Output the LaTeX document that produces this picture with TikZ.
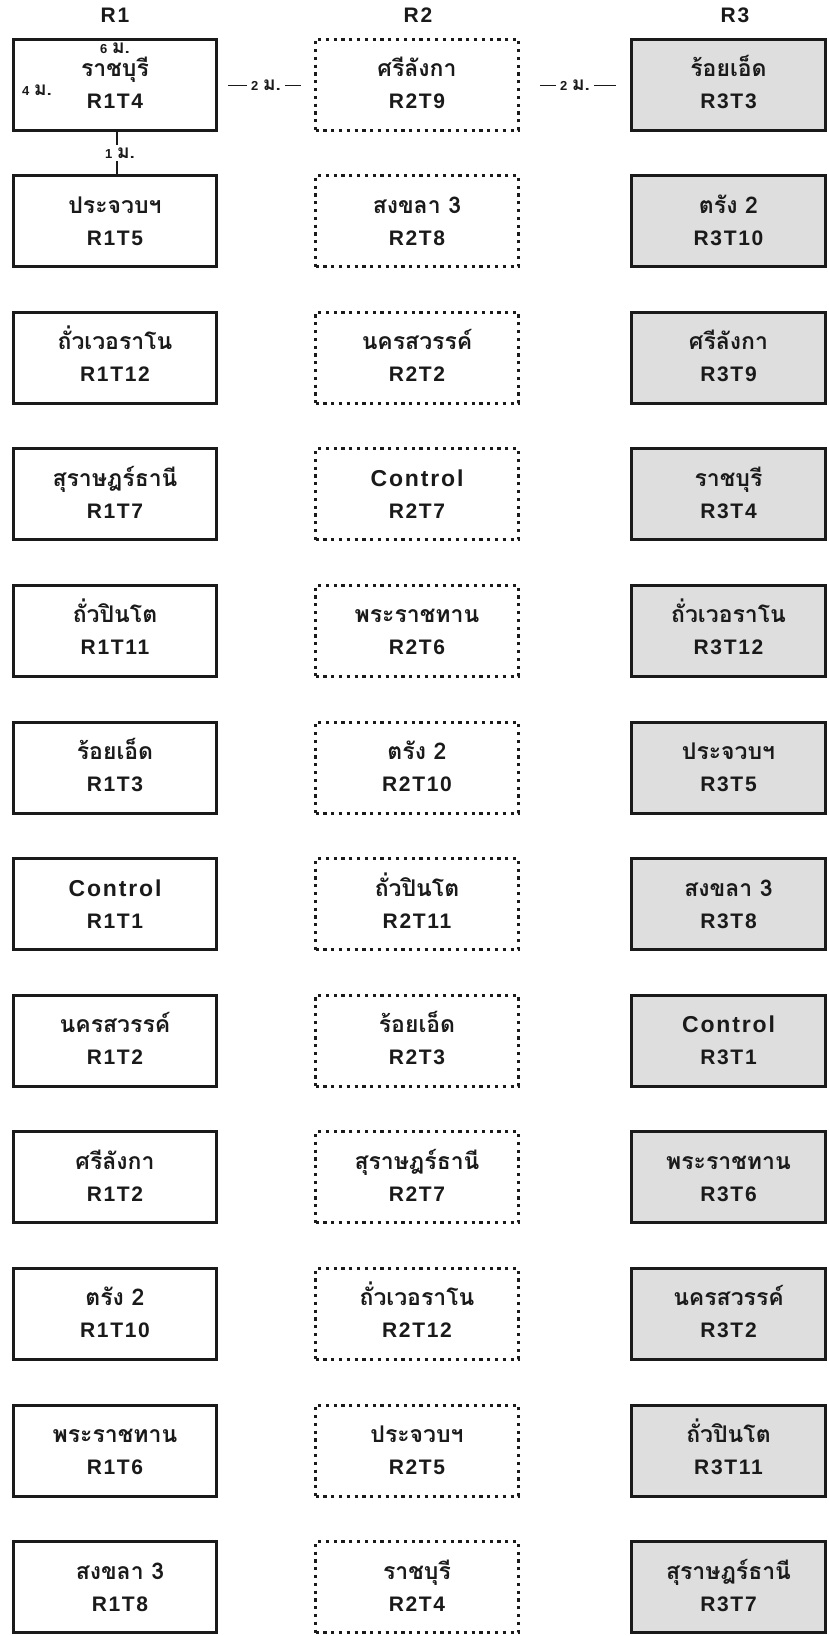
\documentclass[tikz,border=0pt]{standalone}
\usepackage{fontspec}
\setmainfont{Liberation Sans}
\newfontfamily\thaifont[Script=Thai]{Loma}
\newfontfamily\lat[LetterSpace=8]{Liberation Sans}
\newcommand\dnum[1]{{\lat\bfseries\fontsize{13}{15}\selectfont #1}}
\usetikzlibrary{calc}
\definecolor{ink}{HTML}{1A1A1A}
\definecolor{boxgray}{HTML}{DEDEDE}
\begin{document}
\begin{tikzpicture}[x=1pt,y=1pt,
  basebox/.style={draw=ink, line width=3pt, minimum height=91pt, inner sep=0pt},
  boxA/.style={basebox, minimum width=203pt},
  boxB/.style={draw=ink, line width=3pt, dash pattern=on 3.2pt off 4.6pt, minimum width=203pt, minimum height=91pt, inner sep=0pt},
  boxC/.style={basebox, fill=boxgray, minimum width=194pt},
  thtxt/.style={anchor=base, inner sep=0pt, text=ink, font=\thaifont\bfseries\fontsize{23}{25}\selectfont},
  latxt/.style={anchor=base, inner sep=0pt, text=ink, font=\lat\bfseries\fontsize{21}{24}\selectfont},
  headtxt/.style={anchor=base, inner sep=0pt, text=ink, font=\lat\bfseries\fontsize{21}{24}\selectfont},
  smalltxt/.style={inner sep=0pt, text=ink, font=\thaifont\bfseries\fontsize{19}{21}\selectfont},
  dimline/.style={draw=ink, line width=1.8pt}
]
\useasboundingbox[fill=white] (0,0) rectangle (828,-1636);

% headers
\node[headtxt] (h1) at (115,-22) {R1};
\node[headtxt] (h2) at (418,-22) {R2};
\node[headtxt] (h3) at (735,-22) {R3};

% column R1
\foreach \i/\t/\l/\dx in {
  1/ราชบุรี/R1T4/0, 2/ประจวบฯ/R1T5/0, 3/ถั่วเวอราโน/R1T12/0, 4/สุราษฎร์ธานี/R1T7/0,
  5/ถั่วปินโต/R1T11/0, 6/ร้อยเอ็ด/R1T3/0, 7/{\lat Control}/R1T1/0, 8/นครสวรรค์/R1T2/0,
  9/ศรีลังกา/R1T2/0, 10/ตรัง 2/R1T10/0, 11/พระราชทาน/R1T6/0, 12/สงขลา 3/R1T8/5}{
  \pgfmathsetmacro\cy{-(84.5+136.6*(\i-1))}
  \node[boxA] (r1-\i) at (115,\cy) {};
  \node[thtxt] (r1-\i-a) at (115+\dx,\cy+8) {\t};
  \node[latxt] (r1-\i-b) at (115+\dx,\cy-24) {\l};
}

% column R2
\foreach \i/\t/\l in {
  1/ศรีลังกา/R2T9, 2/สงขลา 3/R2T8, 3/นครสวรรค์/R2T2, 4/{\lat Control}/R2T7,
  5/พระราชทาน/R2T6, 6/ตรัง 2/R2T10, 7/ถั่วปินโต/R2T11, 8/ร้อยเอ็ด/R2T3,
  9/สุราษฎร์ธานี/R2T7, 10/ถั่วเวอราโน/R2T12, 11/ประจวบฯ/R2T5, 12/ราชบุรี/R2T4}{
  \pgfmathsetmacro\cy{-(84.5+136.6*(\i-1))}
  \node[boxB] (r2-\i) at (417,\cy) {};
  \node[thtxt] (r2-\i-a) at (417,\cy+8) {\t};
  \node[latxt] (r2-\i-b) at (417,\cy-24) {\l};
}

% column R3
\foreach \i/\t/\l in {
  1/ร้อยเอ็ด/R3T3, 2/ตรัง 2/R3T10, 3/ศรีลังกา/R3T9, 4/ราชบุรี/R3T4,
  5/ถั่วเวอราโน/R3T12, 6/ประจวบฯ/R3T5, 7/สงขลา 3/R3T8, 8/{\lat Control}/R3T1,
  9/พระราชทาน/R3T6, 10/นครสวรรค์/R3T2, 11/ถั่วปินโต/R3T11, 12/สุราษฎร์ธานี/R3T7}{
  \pgfmathsetmacro\cy{-(84.5+136.6*(\i-1))}
  \node[boxC] (r3-\i) at (728.5,\cy) {};
  \node[thtxt] (r3-\i-a) at (728.5,\cy+8) {\t};
  \node[latxt] (r3-\i-b) at (728.5,\cy-24) {\l};
}

% dimension labels
\node[smalltxt, anchor=base] (d6) at (115,-53) {\dnum{6 }ม.};
\node[smalltxt, anchor=base] (d4) at (37,-95) {\dnum{4 }ม.};
\draw[dimline, shorten <=10pt, shorten >=13pt] ([yshift=-1pt]r1-1.east) --
  node[smalltxt, fill=white, inner xsep=4pt, inner ysep=1pt] (d2a) {\dnum{2 }ม.} ([yshift=-1pt]r2-1.west);
\draw[dimline, shorten <=20pt, shorten >=14pt] ([yshift=-1pt]r2-1.east) --
  node[smalltxt, fill=white, inner xsep=4pt, inner ysep=1pt] (d2b) {\dnum{2 }ม.} ([yshift=-1pt]r3-1.west);
\draw[dimline] ([xshift=2pt]r1-1.south) -- node[smalltxt, fill=white, minimum height=16pt, inner xsep=1pt, xshift=3pt] (d1) {\dnum{1 }ม.} ([xshift=2pt]r1-2.north);
\end{tikzpicture}
\end{document}
